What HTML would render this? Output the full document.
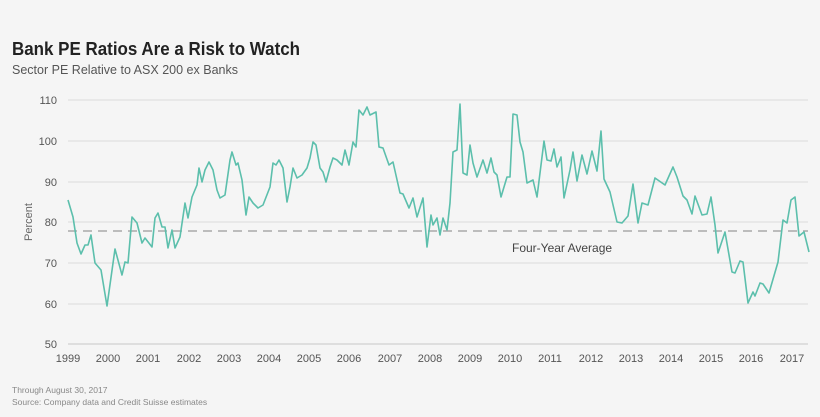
<!DOCTYPE html>
<html><head><meta charset="utf-8"><style>
body{margin:0;background:#f5f5f5;}
svg{display:block;font-family:"Liberation Sans",sans-serif;}
</style></head><body>
<svg width="820" height="417" viewBox="0 0 820 417">
<rect width="820" height="417" fill="#f5f5f5"/>
<text x="12" y="55" font-size="18" font-weight="bold" fill="#222" textLength="288" lengthAdjust="spacingAndGlyphs">Bank PE Ratios Are a Risk to Watch</text>
<text x="12" y="74" font-size="13" fill="#555" textLength="226" lengthAdjust="spacingAndGlyphs">Sector PE Relative to ASX 200 ex Banks</text>
<g stroke="#dcdcdc" stroke-width="1">
<line x1="68" y1="100" x2="808" y2="100"/><line x1="68" y1="141" x2="808" y2="141"/>
<line x1="68" y1="182" x2="808" y2="182"/><line x1="68" y1="222" x2="808" y2="222"/>
<line x1="68" y1="263" x2="808" y2="263"/><line x1="68" y1="304" x2="808" y2="304"/>
</g>
<line x1="68" y1="344" x2="808" y2="344" stroke="#c8c8c8"/>
<g font-size="11" fill="#555" text-anchor="end">
<text x="57" y="104">110</text><text x="57" y="145">100</text><text x="57" y="186">90</text>
<text x="57" y="226">80</text><text x="57" y="267">70</text><text x="57" y="308">60</text><text x="57" y="348">50</text>
</g>
<text transform="translate(32,222) rotate(-90)" font-size="11" fill="#666" text-anchor="middle">Percent</text>
<g font-size="11" fill="#555" text-anchor="middle">
<text x="68" y="362">1999</text><text x="108" y="362">2000</text><text x="148" y="362">2001</text><text x="189" y="362">2002</text><text x="229" y="362">2003</text><text x="269" y="362">2004</text><text x="309" y="362">2005</text><text x="349" y="362">2006</text><text x="390" y="362">2007</text><text x="430" y="362">2008</text><text x="470" y="362">2009</text><text x="510" y="362">2010</text><text x="550" y="362">2011</text><text x="591" y="362">2012</text><text x="631" y="362">2013</text><text x="671" y="362">2014</text><text x="711" y="362">2015</text><text x="751" y="362">2016</text><text x="792" y="362">2017</text>
</g>
<line x1="68" y1="231" x2="808" y2="231" stroke="#aaa" stroke-width="1.5" stroke-dasharray="9,6"/>
<text x="512" y="252" font-size="12" fill="#444">Four-Year Average</text>
<polyline fill="none" stroke="#5cbfac" stroke-width="1.6" stroke-linejoin="round" points="68,200 73,217 77,243 81,254 85,245 88,245 91,235 95,263 101,270 107,306 115,249 122,275 125,262 128,263 132,217 137,223 142,243 145,238 152,247 155,218 158,213 162,227 165,227 168,248 172,230 175,248 180,237 185,203 188,218 192,197 197,185 199,168 202,182 205,170 209,162 213,170 217,190 220,198 225,195 230,160 232,152 236,165 238,163 242,180 246,215 249,197 253,203 258,208 263,205 270,187 273,163 276,165 279,160 283,168 287,202 290,187 293,168 297,178 302,175 307,168 310,158 313,142 316,145 320,168 323,172 326,182 330,167 333,158 337,160 342,165 345,150 349,165 353,142 356,147 359,110 363,115 367,107 370,115 376,112 379,147 383,148 389,165 393,162 400,193 403,194 409,208 413,198 417,217 423,198 427,247 431,215 433,225 437,218 440,235 443,218 447,230 450,203 453,152 457,150 460,104 463,173 467,175 470,145 473,163 477,177 483,160 487,173 491,158 494,172 497,175 501,197 507,177 510,177 513,114 517,115 520,142 523,152 527,183 533,180 537,197 544,141 547,160 551,161 554,149 557,167 561,157 564,198 570,170 573,152 577,181 582,155 587,174 592,151 597,171 601,131 604,179 610,192 617,222 622,223 628,216 633,184 638,223 642,203 648,205 655,178 665,185 673,167 677,177 683,196 687,200 692,214 695,196 702,215 707,214 711,197 715,225 718,253 725,232 732,272 735,273 740,261 743,262 748,303 753,292 755,296 760,283 763,284 769,293 778,262 783,220 787,223 791,200 795,197 799,236 804,232 809,252"/>
<text x="12" y="393" font-size="8.5" fill="#888">Through August 30, 2017</text>
<text x="12" y="405" font-size="8.5" fill="#888">Source: Company data and Credit Suisse estimates</text>
</svg>
</body></html>
